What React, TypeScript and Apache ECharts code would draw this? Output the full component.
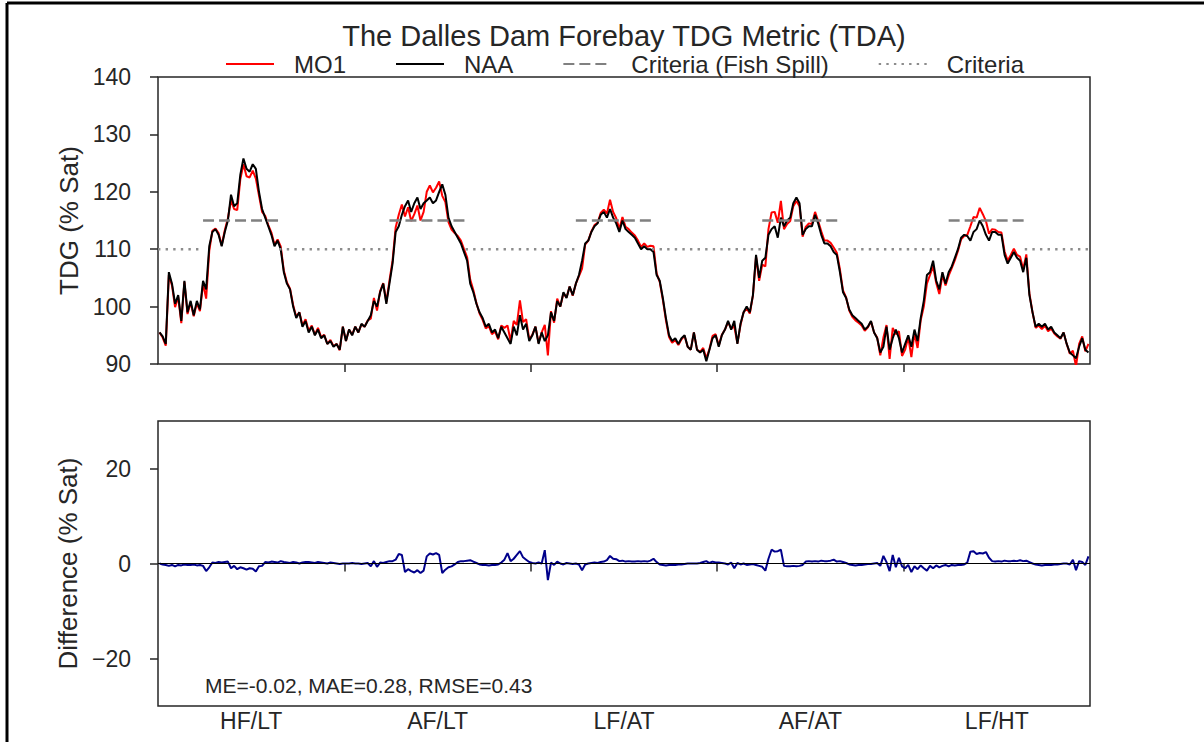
import React, { useEffect, useRef } from 'react';
import * as echarts from 'echarts';

const SEGMENTS = ['HF/LT', 'AF/LT', 'LF/AT', 'AF/AT', 'LF/HT'];
const POINTS_PER_SEGMENT = 60;

// NAA forebay TDG (% Sat), one array per hydrologic segment
const NAA_HFLT = [95.5, 94.8, 93.5, 106, 104, 100.5, 102, 97.5, 104.5, 99,
  101, 98.5, 101, 99.5, 104.5, 103, 110.5, 113, 113.5, 112.5,
  110.5, 113, 115, 119.5, 117.5, 118, 123, 125.8, 124, 123.5,
  124.8, 124, 120, 117, 115.5, 114, 112.5, 110.5, 111.5, 110,
  106, 104, 103, 100, 98, 99, 96.5, 97.5, 95.5, 96.5,
  95, 96, 94.5, 95, 93.5, 94, 93, 93.5, 92.5, 96.5];
const NAA_AFLT = [94, 96, 95, 96.5, 95.5, 97, 96.5, 97.5, 98.5, 101,
  100, 102.5, 104, 100.5, 104, 107.5, 113, 114, 116, 117.5,
  118.5, 116.5, 118, 119, 117, 118, 118.5, 119, 118, 118.5,
  120, 121.3, 119.5, 115.5, 114, 113, 112, 111, 109.5, 108,
  104, 102.5, 100.5, 99, 98, 96.5, 97, 95.5, 96, 94.5,
  96.5, 95.5, 94.5, 93.5, 96.5, 95, 98.5, 96, 97, 94];
const NAA_LFAT = [95, 96.5, 93.5, 95.5, 94, 95, 99, 97.5, 101, 100,
  102.5, 101.5, 103.5, 102, 104, 105.5, 108, 111, 111.5, 113,
  114, 114.5, 116, 116.5, 115.5, 117, 115.5, 114.5, 113, 115,
  113.5, 113, 112.5, 112, 111, 110, 110.5, 110, 110, 109.5,
  105.5, 104.5, 101.5, 98, 95, 94, 94.5, 93.5, 94.5, 95,
  93, 92.5, 95.5, 92.5, 92, 92.5, 90.5, 92.5, 94.5, 95];
const NAA_AFAT = [93, 95, 96, 97.5, 96, 97.5, 93.5, 97, 99, 100,
  99, 102, 109, 105, 108, 108.5, 112.5, 113.5, 114, 112,
  115.5, 114, 115, 115.5, 118, 119, 118, 112.5, 113.5, 114,
  114, 116, 114.5, 112.5, 111, 111, 110.5, 109.5, 109, 106,
  102.5, 101.5, 99.5, 98.5, 98, 97.5, 97, 96, 96.5, 97.5,
  95.5, 94.5, 92, 93, 96.5, 92.5, 94.5, 96, 94.5, 92];
const NAA_LFHT = [93.5, 95, 93, 96, 94, 98, 101, 105.5, 106, 108,
  104.5, 103, 106, 104, 106, 107, 108.5, 110, 112, 112.5,
  112.3, 111.5, 113, 113.5, 115, 114, 112.5, 111.5, 113, 113,
  112.5, 112.5, 109, 107.5, 108.5, 109.5, 108.5, 108, 106, 108.5,
  102, 99, 96.5, 97, 96.5, 97, 96, 96.5, 95.5, 95,
  94.5, 95.5, 93.5, 92, 91.5, 91, 93, 94.5, 92.5, 92];

// MO1 minus NAA (% Sat)
const DIFF_HFLT = [0, -0.2, -0.3, -0.5, -0.3, -0.6, -0.3, -0.4, -0.2, -0.3,
  -0.3, -0.2, -0.4, -0.3, -0.5, -1.6, -0.8, 0.2, 0.1, 0.3,
  0.2, 0.3, 0.4, -1.0, -0.5, -1.2, -0.8, -1.0, -1.3, -1.0,
  -1.1, -1.7, -0.6, -0.5, 0.3, 0.2, 0.4, 0.3, 0.2, 0.5,
  0.3, 0.2, 0.1, 0.3, 0.2, 0.0, 0.2, 0.3, 0.3, 0.2,
  0.1, 0.3, 0.2, 0.1, 0.0, 0.2, 0.1, 0.0, -0.1, 0.0];
const DIFF_AFLT = [0.0, 0.0, 0.1, 0.0, 0.0, -0.1, 0.0, 0.1, -0.6, 0.5,
  -0.7, 0.2, 0.1, 0.3, 0.5, 0.5, 0.8, 2.0, 1.8, -1.8,
  -1.2, -1.6, -1.9, -1.4, -2.0, -1.5, 1.5, 2.1, 1.9, 2.2,
  1.8, -2.0, -1.3, -0.8, -0.6, -0.2, 0.3, 0.5, 0.5, 0.6,
  0.7, 0.4, 0.1, -0.2, -0.3, -0.3, -0.4, -0.3, -0.3, -0.2,
  0.2, 0.8, 2.2, 0.5, 1.0, 1.8, 2.6, 1.3, 0.8, 0.3];
const DIFF_LFAT = [0.1, 0.0, 0.2, 0.0, 2.8, -3.5, 0.2, -0.3, 0.4, 0.0,
  -0.2, 0.1, 0.0, -0.1, 0.0, -0.2, -1.4, -0.2, 0.0, 0.1,
  0.2, 0.1, 0.3, 0.4, 0.7, 1.6, 1.0, 0.9, 0.5, 0.6,
  0.4, 0.5, 0.4, 0.4, 0.5, 0.4, 0.5, 0.4, 0.6, 1.0,
  0.3, -0.2, -0.3, -0.4, -0.3, -0.3, -0.3, -0.2, -0.2, -0.1,
  0.0, 0.0, 0.0, 0.0, 0.1, 0.3, 0.5, 0.1, 0.4, 0.2];
const DIFF_AFAT = [0.2, 0.1, 0.0, -0.2, 0.2, -1.0, 0.1, -0.2, 0.0, -0.3,
  -0.2, -0.1, -0.3, -0.5, -0.7, -1.5, 1.0, 2.9, 2.5, 2.6,
  2.9, -0.5, -0.6, -0.6, -0.5, -0.6, -0.5, -0.3, 0.4, 0.5,
  0.4, 0.5, 0.4, 0.6, 0.5, 0.5, 0.6, 0.8, 0.4, 0.5,
  0.3, 0.1, -0.2, -0.3, -0.4, -0.3, -0.3, -0.2, -0.1, -0.1,
  0.0, 0.1, -0.5, 1.6, 0.3, -1.6, 1.8, -0.8, 1.2, -0.6];
const DIFF_LFHT = [-1.0, -0.3, -1.8, -0.6, -1.2, -0.4, -1.0, -1.5, -0.5, -1.0,
  -0.4, -0.8, -0.5, -0.3, -0.6, -0.3, -0.4, -0.3, -0.3, -0.2,
  0.2, 2.5, 2.6, 2.0, 2.2, 2.1, 2.4, 1.2, 0.5, 0.4,
  0.5, 0.4, 0.6, 0.5, 0.5, 0.6, 0.5, 0.7, 0.5, 0.6,
  0.3, 0.0, -0.2, -0.3, -0.4, -0.3, -0.3, -0.3, -0.2, -0.2,
  -0.1, 0.0, 0.0, -0.2, 0.8, -1.4, 0.5, 0.3, -0.3, 1.5];

// Criteria: spill season (index within each segment), levels
const SPILL_SEASON = [14.5, 39];
const CRITERIA_FISH_SPILL = 115;
const CRITERIA = 110;
const TDG_RANGE = [90, 140];
const TDG_INTERVAL = 10;
const DIFF_RANGE = [-30, 30];
const DIFF_TICKS = [-20, 0, 20];
const STATS_TEXT = 'ME=-0.02, MAE=0.28, RMSE=0.43';
const TITLE = 'The Dalles Dam Forebay TDG Metric (TDA)';

const FONT = '"Liberation Sans", Arial, Helvetica, sans-serif';
const INK = '#262626';

export default function App() {
  const ref = useRef<HTMLDivElement>(null);

  useEffect(() => {
    if (!ref.current) return;
    const chart = echarts.init(ref.current, null, { renderer: 'svg' });

    const naa = [NAA_HFLT, NAA_AFLT, NAA_LFAT, NAA_AFAT, NAA_LFHT].flat();
    const diff = [DIFF_HFLT, DIFF_AFLT, DIFF_LFAT, DIFF_AFAT, DIFF_LFHT].flat();
    const total = SEGMENTS.length * POINTS_PER_SEGMENT;

    const naaData = naa.map((v, i) => [i + 0.5, v]);
    const mo1Data = naa.map((v, i) => [i + 0.5, Math.round((v + diff[i]) * 100) / 100]);
    const diffData = diff.map((v, i) => [i + 0.5, v]);

    const spillData: any[] = [];
    const critData: any[] = [];
    SEGMENTS.forEach((_, s) => {
      const o = s * POINTS_PER_SEGMENT;
      spillData.push([o + SPILL_SEASON[0], CRITERIA_FISH_SPILL], [o + SPILL_SEASON[1], CRITERIA_FISH_SPILL], [o + SPILL_SEASON[1], null]);
      critData.push([o, CRITERIA], [o + SPILL_SEASON[0], CRITERIA], [o + SPILL_SEASON[0], null],
        [o + SPILL_SEASON[1], CRITERIA], [o + POINTS_PER_SEGMENT, CRITERIA]);
    });

    const boundaries = SEGMENTS.slice(1).map((_, s) => (s + 1) * POINTS_PER_SEGMENT);
    const centers = SEGMENTS.map((_, s) => s * POINTS_PER_SEGMENT + POINTS_PER_SEGMENT / 2);

    const tick = { show: true, length: 8, lineStyle: { color: INK, width: 1.5 } };
    const labelStyle = { color: INK, fontSize: 23, fontFamily: FONT };

    const option: any = {
      animation: false,
      backgroundColor: '#ffffff',
      textStyle: { fontFamily: FONT },
      grid: [
        { left: 158, top: 77, width: 932, height: 287, show: true, borderColor: INK, borderWidth: 1.5, backgroundColor: 'transparent' },
        { left: 158, top: 421, width: 932, height: 285, show: true, borderColor: INK, borderWidth: 1.5, backgroundColor: 'transparent' },
      ],
      xAxis: [0, 1].map((g) => ({
        type: 'value',
        gridIndex: g,
        min: 0,
        max: total,
        axisLine: { show: false },
        splitLine: { show: false },
        axisTick: { ...tick, customValues: boundaries },
        axisLabel: {
          show: g === 1,
          customValues: centers,
          margin: 3,
          ...labelStyle,
          formatter: (v: number) => SEGMENTS[Math.floor(v / POINTS_PER_SEGMENT)] ?? '',
        },
      })),
      yAxis: [
        {
          type: 'value',
          gridIndex: 0,
          min: TDG_RANGE[0],
          max: TDG_RANGE[1],
          interval: TDG_INTERVAL,
          axisLine: { show: false },
          splitLine: { show: false },
          axisTick: tick,
          axisLabel: { margin: 27, ...labelStyle },
          name: 'TDG (% Sat)',
          nameLocation: 'middle',
          nameGap: 74,
          nameTextStyle: { color: INK, fontSize: 26, fontFamily: FONT },
        },
        {
          type: 'value',
          gridIndex: 1,
          min: DIFF_RANGE[0],
          max: DIFF_RANGE[1],
          axisLine: { show: false },
          splitLine: { show: false },
          axisTick: { ...tick, customValues: DIFF_TICKS },
          axisLabel: {
            margin: 27,
            ...labelStyle,
            customValues: DIFF_TICKS,
            formatter: (v: number) => (v < 0 ? '\u2212' + Math.abs(v) : String(v)),
          },
          name: 'Difference (% Sat)',
          nameLocation: 'middle',
          nameGap: 74,
          nameTextStyle: { color: INK, fontSize: 26, fontFamily: FONT },
        },
      ],
      legend: {
        data: ['MO1', 'NAA', 'Criteria (Fish Spill)', 'Criteria'],
        left: 225,
        top: 52,
        padding: 0,
        itemWidth: 48,
        itemHeight: 14,
        itemGap: 49,
        selectedMode: false,
        itemStyle: { opacity: 0 },
        textStyle: { color: INK, fontSize: 24, fontFamily: FONT, padding: [0, 0, 0, 15] },
      },
      series: [
        {
          name: 'MO1', type: 'line', xAxisIndex: 0, yAxisIndex: 0, data: mo1Data,
          showSymbol: false, symbol: 'none', lineStyle: { color: '#ff0000', width: 2 }, itemStyle: { color: '#ff0000' },
        },
        {
          name: 'NAA', type: 'line', xAxisIndex: 0, yAxisIndex: 0, data: naaData,
          showSymbol: false, symbol: 'none', lineStyle: { color: '#000000', width: 2 }, itemStyle: { color: '#000000' },
        },
        {
          name: 'Criteria (Fish Spill)', type: 'line', xAxisIndex: 0, yAxisIndex: 0, data: spillData,
          showSymbol: false, symbol: 'none', connectNulls: false,
          lineStyle: { color: '#808080', width: 2.6, type: [11, 5] }, itemStyle: { color: '#808080' },
        },
        {
          name: 'Criteria', type: 'line', xAxisIndex: 0, yAxisIndex: 0, data: critData,
          showSymbol: false, symbol: 'none', connectNulls: false,
          lineStyle: { color: '#8c8c8c', width: 2.4, type: [2.4, 5.2] }, itemStyle: { color: '#8c8c8c' },
        },
        {
          name: 'Difference', type: 'line', xAxisIndex: 1, yAxisIndex: 1, data: diffData,
          showSymbol: false, symbol: 'none', lineStyle: { color: '#00008b', width: 2 }, itemStyle: { color: '#00008b' },
        },
        {
          name: 'Zero', type: 'line', xAxisIndex: 1, yAxisIndex: 1, data: [[0, 0], [total, 0]],
          showSymbol: false, symbol: 'none', lineStyle: { color: '#000000', width: 1 }, silent: true,
        },
      ],
      graphic: [
        { type: 'line', shape: { x1: 7, y1: 3, x2: 7, y2: 742 }, style: { stroke: '#000', lineWidth: 3 } },
        { type: 'line', shape: { x1: 7, y1: 3, x2: 1204, y2: 3 }, style: { stroke: '#000', lineWidth: 3 } },
        {
          type: 'text', x: 624, y: 36,
          style: { text: TITLE, fill: INK, font: `29px ${FONT}`, align: 'center', verticalAlign: 'middle' },
        },
        {
          type: 'text', x: 205, y: 685,
          style: { text: STATS_TEXT, fill: INK, font: `21px ${FONT}`, align: 'left', verticalAlign: 'middle' },
        },
      ],
    };

    chart.setOption(option);
    return () => chart.dispose();
  }, []);

  return (
    <div
      ref={ref}
      style={{ position: 'absolute', left: 0, top: 0, width: 1204, height: 742, background: '#fff' }}
    />
  );
}
